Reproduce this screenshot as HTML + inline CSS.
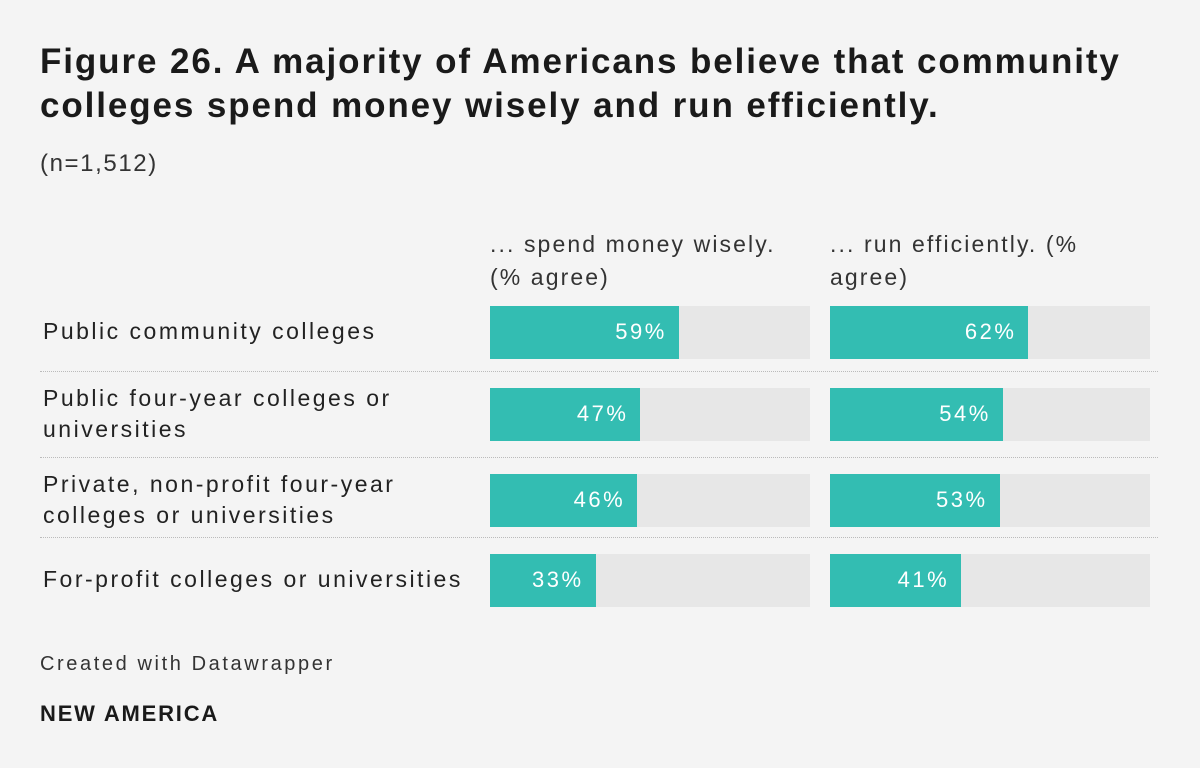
<!DOCTYPE html>
<html><head><meta charset="utf-8">
<style>
body{margin:0;width:1200px;height:768px;background:#f4f4f4;font-family:"Liberation Sans",sans-serif;color:#222;position:relative;overflow:hidden}
.t{position:absolute;white-space:nowrap}
#title{left:40px;top:40px;font-size:35px;font-weight:bold;line-height:44px;color:#1a1a1a;letter-spacing:1.9px}
#sub{left:40px;top:150px;font-size:24px;color:#333;letter-spacing:1.6px}
.hdr{position:absolute;top:228px;font-size:23px;line-height:33px;color:#333;letter-spacing:2.1px;white-space:nowrap}
.lbl{position:absolute;left:43px;font-size:23px;line-height:31px;color:#222;letter-spacing:2.5px;white-space:nowrap}
.sep{position:absolute;left:40px;width:1118px;border-top:1px dotted #bbb}
.bg{position:absolute;background:#e7e7e7}
.bar{position:absolute;background:#33bdb2}
.val{position:absolute;color:#fff;font-size:22px;text-align:right;letter-spacing:2.5px}
#foot{left:40px;top:653px;font-size:20px;color:#333;letter-spacing:2.6px}
#brand{left:40px;top:701px;font-size:22px;font-weight:bold;color:#1a1a1a;letter-spacing:1.8px}
</style></head><body>
<div id="title" class="t">Figure 26. A majority of Americans believe that community<br>colleges spend money wisely and run efficiently.</div>
<div id="sub" class="t">(n=1,512)</div>
<div class="hdr" style="left:490px">... spend money wisely.<br>(% agree)</div>
<div class="hdr" style="left:830px">... run efficiently. (%<br>agree)</div>
<div id="chart"></div>
<div id="foot" class="t">Created with Datawrapper</div>
<div id="brand" class="t">NEW AMERICA</div>
<script>
const categories=["Public community colleges","Public four-year colleges or<br>universities","Private, non-profit four-year<br>colleges or universities","For-profit colleges or universities"];
const spendValues=[59,47,46,33];
const efficientValues=[62,54,53,41];
const rowTops=[306,388,474,554];
const barH=53, barW=320, colX=[490,830];
const c=document.getElementById('chart');
function x(v){return v/100*barW;}
categories.forEach((cat,i)=>{
  const top=rowTops[i];
  const l=document.createElement('div');l.className='lbl';
  
  
  l.innerHTML=cat;
  const lines=cat.split('<br>').length;
  l.style.top=(top+barH/2-lines*31/2-1)+'px';
  c.appendChild(l);
  if(i>0){const s=document.createElement('div');s.className='sep';
    
    
    s.style.top=(top-17)+'px';c.appendChild(s);}
  [spendValues[i],efficientValues[i]].forEach((v,j)=>{
    const bg=document.createElement('div');bg.className='bg';
    
    
    bg.style.cssText=`left:${colX[j]}px;top:${top}px;width:${barW}px;height:${barH}px`;c.appendChild(bg);
    const b=document.createElement('div');b.className='bar';
    
    
    b.style.cssText=`left:${colX[j]}px;top:${top}px;width:${x(v)}px;height:${barH}px`;c.appendChild(b);
    const t=document.createElement('div');t.className='val';
    
    
    t.textContent=v+'%';
    t.style.cssText=`left:${colX[j]}px;width:${x(v)-12}px;top:${top+13}px;`;c.appendChild(t);
  });
});
</script>
</body></html>
